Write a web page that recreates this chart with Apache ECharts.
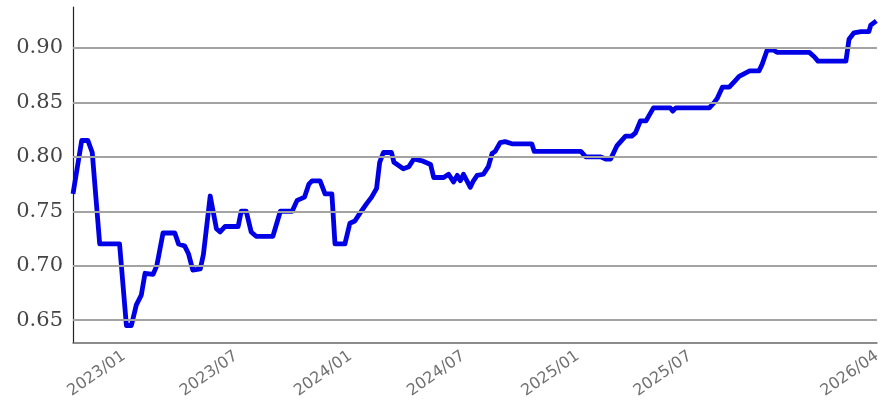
<!DOCTYPE html>
<html>
<head>
<meta charset="utf-8">
<script src="https://cdn.jsdelivr.net/npm/echarts@6/dist/echarts.min.js"></script>
<style>html,body{margin:0;padding:0;background:#fff;}#c{width:884px;height:401px;}</style>
</head>
<body>
<div id="c"></div>
<script>
var dates = [
'2022-10-11','2022-10-25','2022-11-04','2022-11-11','2022-11-23','2022-12-25','2023-01-05','2023-01-13','2023-01-21','2023-01-29',
'2023-02-04','2023-02-17','2023-02-23','2023-03-05','2023-03-24','2023-03-30','2023-04-09','2023-04-15','2023-04-22','2023-05-04',
'2023-05-09','2023-05-20','2023-05-30','2023-06-05','2023-06-13','2023-07-04','2023-07-09','2023-07-17','2023-07-25','2023-08-02',
'2023-08-29','2023-09-10','2023-09-29','2023-10-07','2023-10-19','2023-10-26','2023-10-31','2023-11-13','2023-11-21','2023-12-02',
'2023-12-07','2023-12-23','2023-12-31','2024-01-08','2024-01-16','2024-01-27','2024-02-04','2024-02-12','2024-02-17','2024-02-23',
'2024-03-07','2024-03-11','2024-03-26','2024-04-04','2024-04-12','2024-04-27','2024-05-09','2024-05-14','2024-05-30','2024-06-07',
'2024-06-15','2024-06-21','2024-06-26','2024-07-01','2024-07-12','2024-07-17','2024-07-23','2024-08-02','2024-08-10','2024-08-16',
'2024-08-21','2024-08-29','2024-09-06','2024-09-17','2024-10-19','2024-10-23','2025-01-06','2025-01-14','2025-02-07','2025-02-15',
'2025-02-23','2025-03-05','2025-03-19','2025-03-29','2025-04-04','2025-04-12','2025-04-21','2025-05-03','2025-05-30','2025-06-03',
'2025-06-08','2025-08-01','2025-08-09','2025-08-14','2025-08-22','2025-09-02','2025-09-10','2025-09-18','2025-09-28','2025-10-05',
'2025-10-20','2025-10-25','2025-11-02','2025-11-13','2025-11-18','2026-01-09','2026-01-17','2026-01-23','2026-03-09','2026-03-14',
'2026-03-22','2026-04-02','2026-04-15','2026-04-18','2026-04-27'
];
var values = [
0.766,0.815,0.815,0.804,0.720,0.720,0.645,0.645,0.664,0.673,
0.693,0.692,0.700,0.730,0.730,0.720,0.718,0.711,0.696,0.697,
0.710,0.764,0.734,0.731,0.736,0.736,0.750,0.750,0.731,0.727,
0.727,0.750,0.750,0.760,0.763,0.775,0.778,0.778,0.766,0.766,
0.720,0.720,0.739,0.741,0.748,0.757,0.763,0.771,0.795,0.804,
0.804,0.795,0.789,0.791,0.798,0.796,0.793,0.781,0.781,0.784,
0.777,0.783,0.778,0.784,0.772,0.778,0.783,0.784,0.791,0.803,
0.805,0.813,0.814,0.812,0.812,0.805,0.805,0.800,0.800,0.798,
0.798,0.810,0.819,0.819,0.822,0.833,0.833,0.845,0.845,0.842,
0.845,0.845,0.850,0.854,0.864,0.864,0.869,0.874,0.877,0.879,
0.879,0.885,0.898,0.898,0.896,0.896,0.892,0.888,0.888,0.908,
0.914,0.915,0.915,0.921,0.925
];
var xMin = '2022-10-11';
var xMax = '2026-04-28';
var xTickLabels = ['2023-01-01','2023-07-01','2024-01-01','2024-07-01','2025-01-01','2025-07-01','2026-04-28'];
var yMin = 0.6293;
var yMax = 0.9377;
var yTicks = [0.65, 0.70, 0.75, 0.80, 0.85, 0.90];

function ts(s){ var p = s.split('-'); return Date.UTC(+p[0], +p[1]-1, +p[2]); }
var seriesData = dates.map(function(d, i){ return [ts(d), values[i]]; });

var chart = echarts.init(document.getElementById('c'), null, {renderer:'canvas'});
chart.setOption({
  animation: false,
  backgroundColor: '#fff',
  grid: {left: 73, right: -2, top: 7, bottom: 56, containLabel: false},
  xAxis: {
    type: 'value',
    min: ts(xMin),
    max: ts(xMax),
    axisLine: {show: true, lineStyle: {color: '#666', width: 1.5}},
    axisTick: {show: false},
    splitLine: {show: false},
    axisLabel: {
      customValues: xTickLabels.map(ts),
      rotate: 35,
      margin: 12,
      color: '#707070',
      fontFamily: 'DejaVu Sans',
      fontSize: 16,
      hideOverlap: false,
      formatter: function(v){
        var d = new Date(v);
        var m = d.getUTCMonth()+1;
        return d.getUTCFullYear() + '/' + (m < 10 ? '0' + m : m);
      }
    }
  },
  yAxis: {
    type: 'value',
    min: yMin,
    max: yMax,
    axisLine: {show: true, lineStyle: {color: '#222', width: 1.2}},
    axisTick: {show: false},
    splitLine: {show: false},
    axisLabel: {
      customValues: yTicks,
      margin: 10,
      color: '#444',
      fontFamily: 'DejaVu Serif',
      fontSize: 21,
      formatter: function(v){ return v.toFixed(2); }
    }
  },
  series: [
    {
      type: 'line',
      data: [],
      z: 1,
      silent: true,
      markLine: {
        silent: true,
        symbol: ['none','none'],
        label: {show: false},
        lineStyle: {color: '#a3a3a3', width: 1.8, type: 'solid'},
        data: yTicks.map(function(v){ return {yAxis: v}; })
      }
    },
    {
      type: 'line',
      data: seriesData,
      z: 3,
      showSymbol: false,
      symbol: 'none',
      lineStyle: {color: '#0000e6', width: 4.8, join: 'round'},
      itemStyle: {color: '#0000e6'}
    }
  ]
});
</script>
</body>
</html>
